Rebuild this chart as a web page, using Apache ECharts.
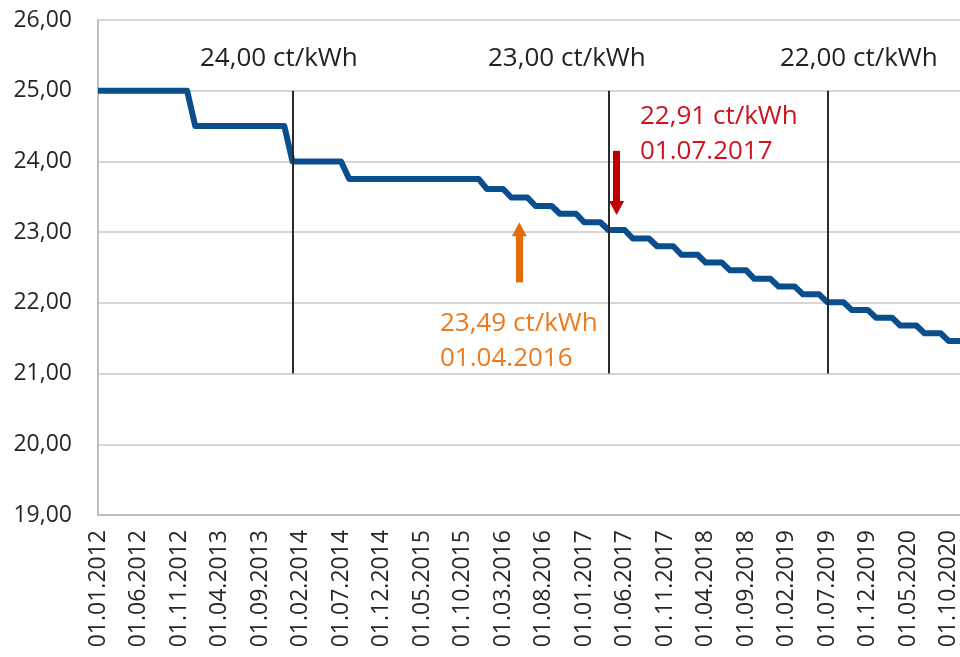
<!DOCTYPE html>
<html>
<head>
<meta charset="utf-8">
<script src="https://cdn.jsdelivr.net/npm/echarts@6/dist/echarts.min.js"></script>
<style>
	html, body { margin: 0; padding: 0; background: #fff; }
	#container { width: 960px; height: 657px; }
</style>
</head>
<body>
<div id="container"></div>
<script>
// Monatsachse 01.01.2012 .. 01.12.2020
var months = [];
for (var y = 2012; y <= 2020; y++) {
	for (var m = 1; m <= 12; m++) {
		months.push('01.' + (m < 10 ? '0' + m : m) + '.' + y);
	}
}

// ct/kWh je Monat
var price = [
	25.00, 25.00, 25.00, 25.00, 25.00, 25.00, 25.00, 25.00, 25.00, 25.00, 25.00, 25.00,
	24.50, 24.50, 24.50, 24.50, 24.50, 24.50, 24.50, 24.50, 24.50, 24.50, 24.50, 24.50,
	24.00, 24.00, 24.00, 24.00, 24.00, 24.00, 24.00, 23.75, 23.75, 23.75, 23.75, 23.75,
	23.75, 23.75, 23.75, 23.75, 23.75, 23.75, 23.75, 23.75, 23.75, 23.75, 23.75, 23.75,
	23.61, 23.61, 23.61, 23.49, 23.49, 23.49, 23.37, 23.37, 23.37, 23.26, 23.26, 23.26,
	23.14, 23.14, 23.14, 23.03, 23.03, 23.03, 22.91, 22.91, 22.91, 22.80, 22.80, 22.80,
	22.68, 22.68, 22.68, 22.57, 22.57, 22.57, 22.46, 22.46, 22.46, 22.34, 22.34, 22.34,
	22.23, 22.23, 22.23, 22.12, 22.12, 22.12, 22.01, 22.01, 22.01, 21.90, 21.90, 21.90,
	21.79, 21.79, 21.79, 21.68, 21.68, 21.68, 21.57, 21.57, 21.57, 21.46, 21.46, 21.46
];

// senkrechte Markierungen (Monat, von, bis)
var markDates = ['01.01.2014', '01.04.2017', '01.07.2019'];
var markFrom = 25;
var markTo = 21;
var markTexts = ['24,00 ct/kWh', '23,00 ct/kWh', '22,00 ct/kWh'];

// Pfeile
var redArrow = { date: '01.05.2017', from: 24.15, to: 23.34 };
var orangeArrow = { date: '01.05.2016', from: 22.29, to: 23.04 };
var redText = ['22,91 ct/kWh', '01.07.2017'];
var orangeText = ['23,49 ct/kWh', '01.04.2016'];

var yTicks = { min: 19, max: 26, step: 1 };

var FONT = '"Open Sans", sans-serif';

function fmt(v) {
	return v.toFixed(2).replace('.', ',');
}

var dom = document.getElementById('container');
var myChart = echarts.init(dom, null, { renderer: 'canvas' });

var vLines = markDates.map(function(d) {
	return [
		{ coord: [d, markFrom], symbol: 'none' },
		{ coord: [d, markTo], symbol: 'none' }
	];
});

var arrows = [
	[
		{ coord: [redArrow.date, redArrow.from], symbol: 'none', lineStyle: { color: '#C00000', width: 7, type: 'solid' } },
		{ coord: [redArrow.date, redArrow.to], symbol: 'triangle', symbolSize: [15, 14] }
	],
	[
		{ coord: [orangeArrow.date, orangeArrow.from], symbol: 'none', lineStyle: { color: '#E46C0A', width: 7, type: 'solid' } },
		{ coord: [orangeArrow.date, orangeArrow.to], symbol: 'triangle', symbolSize: [15, 14] }
	]
];

function txt(x, y, s, color) {
	return {
		type: 'text',
		left: x,
		top: y,
		style: { text: s, font: '26px ' + FONT, fill: color }
	};
}

var option = {
	animation: false,
	backgroundColor: '#fff',
	grid: {
		left: 98,
		top: 20,
		width: 867,
		height: 495,
		containLabel: false,
		outerBoundsMode: 'none'
	},
	xAxis: {
		type: 'category',
		data: months,
		boundaryGap: false,
		axisLine: { show: true, lineStyle: { color: '#BFBFBF', width: 2 } },
		axisTick: { show: false },
		axisLabel: {
			interval: 4,
			rotate: 90,
			margin: 15,
			color: '#262626',
			fontFamily: 'Open Sans',
			fontSize: 23
		},
		splitLine: { show: false }
	},
	yAxis: {
		type: 'value',
		min: yTicks.min,
		max: yTicks.max,
		interval: yTicks.step,
		axisLine: { show: true, lineStyle: { color: '#BFBFBF', width: 2 } },
		axisTick: { show: false },
		axisLabel: {
			margin: 26,
			color: '#262626',
			fontFamily: 'Open Sans',
			fontSize: 23,
			formatter: fmt
		},
		splitLine: { lineStyle: { color: '#C8C8C8', width: 1.5 } }
	},
	series: [
		{
			name: 'Preis',
			type: 'line',
			data: price,
			symbol: 'none',
			lineStyle: { color: '#0B4E8E', width: 6, join: 'round' },
			markLine: {
				silent: true,
				symbol: 'none',
				label: { show: false },
				lineStyle: { color: '#2B2B2B', width: 2, type: 'solid' },
				data: vLines
			}
		},
		{
			name: 'Pfeile',
			type: 'line',
			data: [],
			markLine: {
				silent: true,
				label: { show: false },
				emphasis: { disabled: true },
				data: arrows
			}
		}
	],
	graphic: [
		txt(200, 46, markTexts[0], '#222'),
		txt(488, 46, markTexts[1], '#222'),
		txt(780, 46, markTexts[2], '#222'),
		txt(640, 104, redText[0], '#D0121F'),
		txt(640, 139, redText[1], '#D0121F'),
		txt(440, 311, orangeText[0], '#EC7A1E'),
		txt(440, 346, orangeText[1], '#EC7A1E')
	]
};

if (option && typeof option === 'object') {
	myChart.setOption(option, true);
}
</script>
</body>
</html>
